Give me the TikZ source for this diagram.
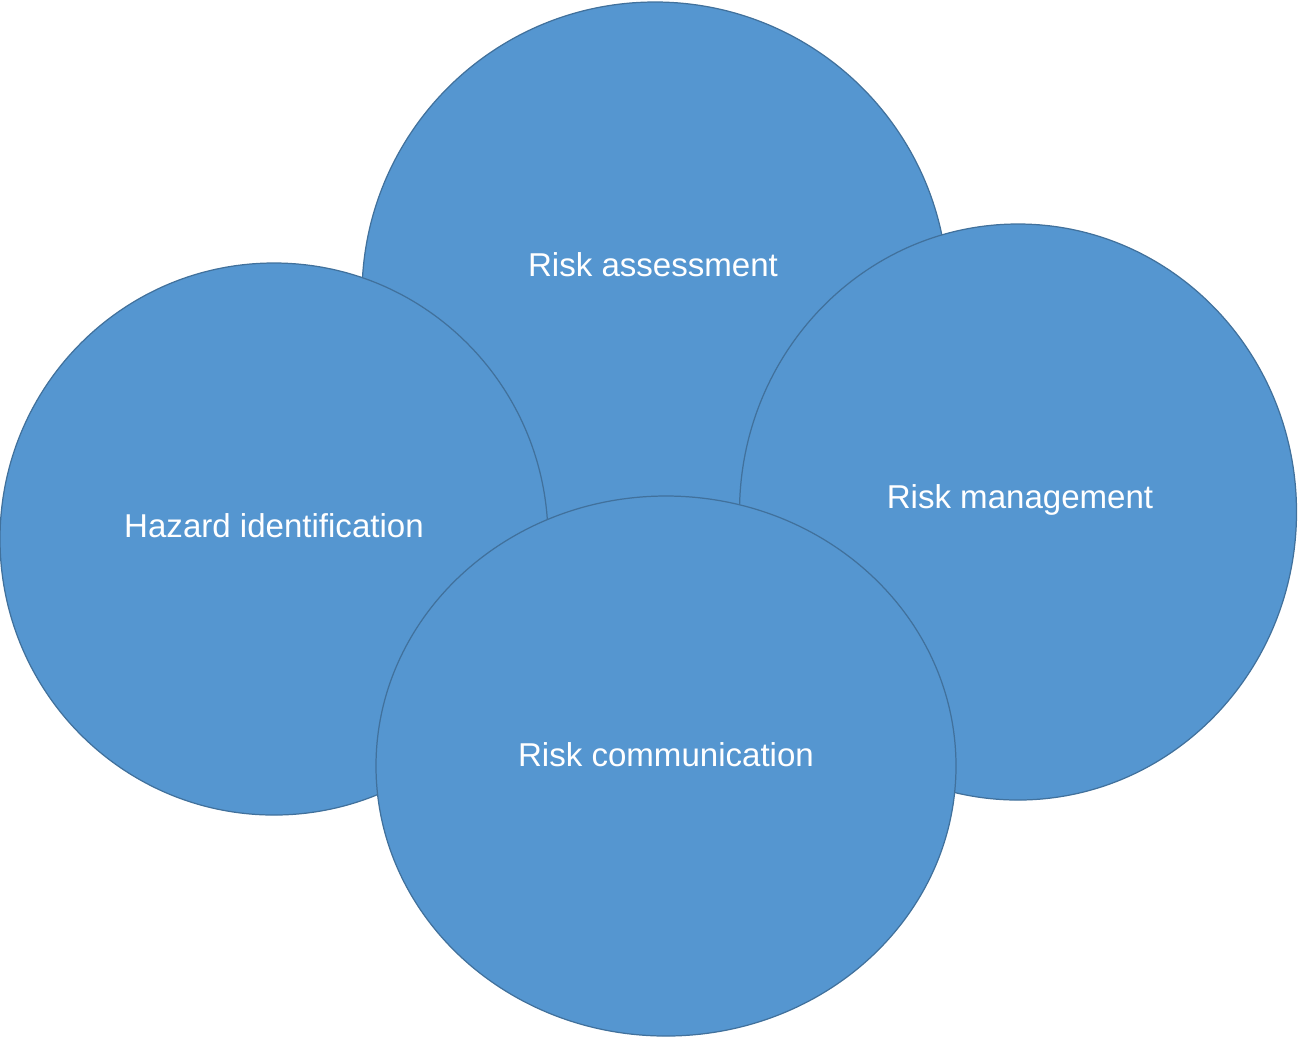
\documentclass[tikz,border=0pt]{standalone}
\usepackage{xcolor}
\usepackage{fontspec}
\setmainfont{Liberation Sans}
\usepackage{tikz}
\usetikzlibrary{shapes.geometric, positioning, calc}

\definecolor{blobfill}{RGB}{85,150,208}
\definecolor{blobline}{RGB}{65,113,156}

\begin{document}
\begin{tikzpicture}[x=0.01cm, y=-0.01cm,
	blob/.style={ellipse, draw=blobline, fill=blobfill, line width=0.35pt, inner sep=0pt},
	lbl/.style={text=white, font=\fontsize{9.4}{11}\selectfont, inner sep=0pt}]
			\useasboundingbox (0,0) rectangle (1300,1038);
			
			% circles, back to front
			\foreach \name/\x/\y/\w/\h in {assess/655/295/586/586, hazard/274/539/548/552, manage/1018/512/557/576, comm/666/766/580/540}
			\node[blob, minimum width=\w*0.01cm, minimum height=\h*0.01cm] (\name) at (\x,\y) {};
			
			% labels
			\node[lbl] (assesslbl) at (653,265) {Risk assessment};
			\node[lbl] (hazardlbl) at (274,526) {Hazard identification};
			\node[lbl] (managelbl) at (1020,500) {Risk management};
			\node[lbl] (commlbl) at (666,755) {Risk communication};
			\end{tikzpicture}
\end{document}
